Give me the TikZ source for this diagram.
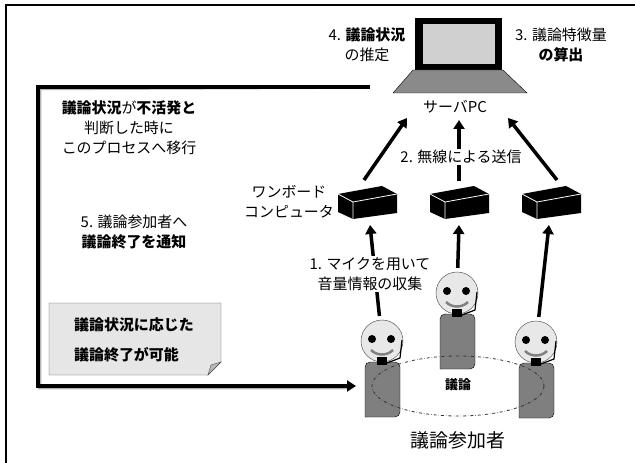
\documentclass[tikz,border=0pt]{standalone}
\usepackage{fontspec}
\setmainfont{Noto Sans CJK JP}
\usetikzlibrary{arrows.meta}
\definecolor{screen}{HTML}{D0D0D0}
\definecolor{base}{HTML}{8A8A8A}
\definecolor{body}{HTML}{7F7F7F}
\definecolor{face}{HTML}{E8E8E8}
\definecolor{memo}{HTML}{E6E6E6}

\newcommand{\kiban}[2]{%
\begin{scope}[shift={(#1,#2)}]
\fill (1,9) -- (45,1) -- (60,9) -- (60,28) -- (16,34) -- (1,27) -- cycle;
\draw[white,line width=0.8] (1,9) -- (16,17) -- (60,9) (16,17) -- (16,34);
\end{scope}}

\newcommand{\hito}[3]{%
\begin{scope}[shift={(#2,#3)}]
\draw[fill=body] (-17,76) [rounded corners=5] -- (-17,21) -- (18,21) -- (18,76) [sharp corners] -- cycle;
\node[head] (#1) at (0,0) {};
\fill (-10,-2) circle (4) (9,-2) circle (4);
\draw[gray,line width=2.5] (-11,9) .. controls (-5,15) and (5,15) .. (11,9);
\fill (-5,16) rectangle (5,24);
\draw[line width=1.2] (5,22) -- (18,17) -- (20,-1);
\end{scope}}

\begin{document}
\begin{tikzpicture}[x=1bp,y=-1bp]
\tikzstyle{every node}=[font=\fontsize{15}{20}\selectfont,inner sep=1bp];
\tikzstyle{lbl}=[align=center];
\tikzstyle{wlbl}=[align=center,fill=white];
\tikzstyle{head}=[circle,draw=black!75,fill=face,minimum size=42bp,inner sep=0pt];
\tikzstyle{arr}=[line width=3.5bp,-{Triangle[width=11bp,length=9bp]}];
\useasboundingbox (0,0) rectangle (635,463);
\draw[line width=1.2bp] (6,463) -- (6,5) -- (635,5);

\fill (415,18) rectangle (502,70);
\fill[screen] (423,24) rectangle (495,64);
\draw[fill=base] (413,70) -- (503,70) -- (527,93) -- (393,93) -- cycle;
\node (pc) at (455,107) {サーバPC};
\node[lbl] (t4) at (367,45) {4. \textbf{議論状況}\\の推定};
\node[lbl] (t3) at (561,45) {3. 議論特徴量\\\textbf{の算出}};

\kiban{337}{185}
\kiban{429}{185}
\kiban{521}{185}
\node[lbl] (wb) at (289,202) {ワンボード\\コンピュータ};

\hito{h2}{457}{293}
\hito{h1}{382}{341}
\hito{h3}{536}{342}
\draw[dashdotted,thick,black!80] (458,386) ellipse (86 and 30);
\node[font=\fontsize{13}{15}\selectfont\bfseries] (gi) at (458,385) {議論};
\node[font=\fontsize{19}{22}\selectfont] (sa) at (458,440) {議論参加者};

\coordinate (pc1) at (407,118);
\coordinate (pc2) at (459,120);
\coordinate (pc3) at (508,118);
\coordinate (b1u) at (364,180);
\coordinate (b2u) at (459,181);
\coordinate (b3u) at (557,180);
\coordinate (b1d) at (370,225);
\coordinate (b2d) at (459,225);
\coordinate (b3d) at (549,225);
\foreach \a/\b in {b1u/pc1,b2u/pc2,b3u/pc3}
\draw[arr] (\a) -- (\b);
\foreach \a/\b in {h1/b1d,h2/b2d,h3/b3d}
\draw[arr,shorten <=4bp] (\a) -- (\b);
\node[wlbl] (t2) at (461,157) {2. 無線による送信};
\node[wlbl] (t1) at (370,274) {1. マイクを用いて\\音量情報の収集};

\coordinate (fa) at (370,87);
\coordinate (fz) at (356,386);
\draw[gray!60,line width=3.5bp,shift={(1.5,1.5)}] (fa) -- (38,87) |- (346,386);
\draw[arr] (fa) -- (38,87) |- (fz);
\node[lbl] (t0) at (129,128) {\textbf{議論状況}が\textbf{不活発と}\\判断した時に\\このプロセスへ移行};
\node[lbl] (t5) at (134,232) {5. 議論参加者へ\\\textbf{議論終了を通知}};

\draw[draw=black!70,fill=memo] (49,303) -- (221,303) -- (221,362) -- (208,375) -- (49,375) -- cycle;
\draw[draw=black!70,fill=gray!55] (208,375) -- (221,362) -- (211,365) -- cycle;
\node[anchor=west,font=\fontsize{15}{20}\selectfont\bfseries] (m1) at (73,325) {議論状況に応じた};
\node[anchor=west,font=\fontsize{15}{20}\selectfont\bfseries] (m2) at (73,355) {議論終了が可能};
\end{tikzpicture}
\end{document}
